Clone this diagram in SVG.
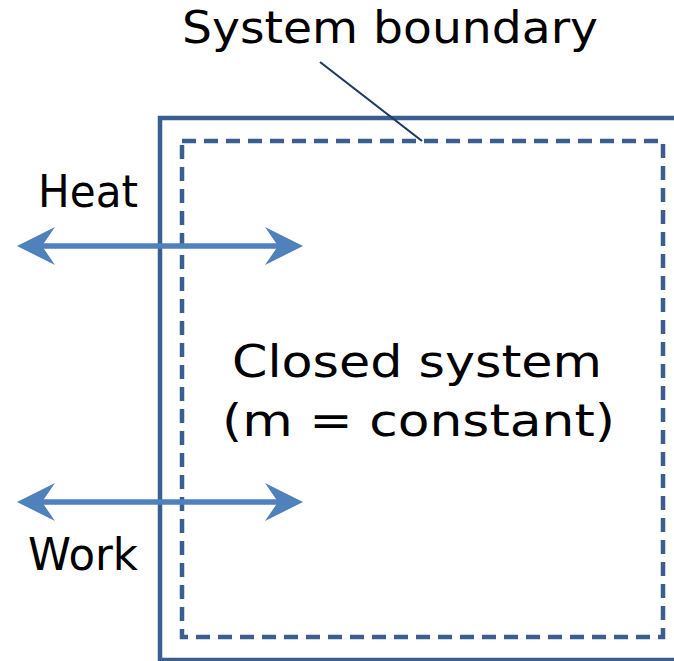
<svg xmlns="http://www.w3.org/2000/svg" width="674" height="661" viewBox="0 0 674 661">
<style>
text{font-family:"DejaVu Sans",Verdana,sans-serif;fill:#000;font-size:44px}
.outer{fill:none;stroke:#3A5F8E;stroke-width:4.5}
.inner{fill:none;stroke:#3A5F8E;stroke-width:4.5;stroke-dasharray:14 8}
.arrow{stroke:#4F81BD;stroke-width:5.5;fill:none}
.head{fill:#4F81BD}
</style>
<rect width="674" height="661" fill="#fff"/>
<g id="system">
<path class="outer" d="M680 118 H160 V660 H680"/>
<rect class="inner" x="182" y="141" width="481" height="496"/>
<text x="232" y="377" textLength="370" lengthAdjust="spacingAndGlyphs">Closed system</text>
<text x="222" y="436" textLength="393" lengthAdjust="spacingAndGlyphs">(m = constant)</text>
</g>
<g id="label">
<text x="182" y="43" textLength="416" lengthAdjust="spacingAndGlyphs">System boundary</text>
</g>
<g id="heat">
<text x="38" y="207" textLength="100" lengthAdjust="spacingAndGlyphs">Heat</text>
</g>
<g id="work">
<text x="28" y="570" textLength="110" lengthAdjust="spacingAndGlyphs">Work</text>
</g>
<g id="connectors">
<line x1="320" y1="62" x2="422" y2="141" stroke="#1F3A60" stroke-width="2.2"/>
<line class="arrow" x1="40" y1="246" x2="280" y2="246"/>
<path class="head" d="M17 246 L55 227 L42 246 L55 265 Z"/>
<path class="head" d="M303 246 L265 227 L278 246 L265 265 Z"/>
<line class="arrow" x1="40" y1="502" x2="280" y2="502"/>
<path class="head" d="M17 502 L55 483 L42 502 L55 521 Z"/>
<path class="head" d="M303 502 L265 483 L278 502 L265 521 Z"/>
</g>
</svg>
